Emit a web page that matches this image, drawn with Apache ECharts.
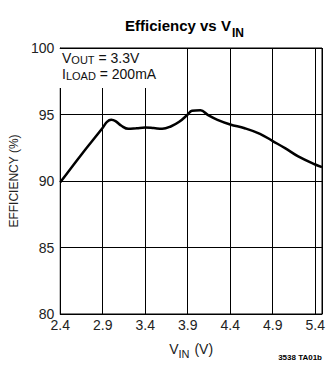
<!DOCTYPE html>
<html><head><meta charset="utf-8">
<script src="https://cdn.jsdelivr.net/npm/echarts@6/dist/echarts.min.js"></script>
<style>html,body{margin:0;padding:0;background:#fff}#c{width:335px;height:373px}</style>
</head><body><div id="c"></div>
<script>
const vin = [2.4, 2.65, 2.9, 2.95, 3.0, 3.05, 3.12, 3.2, 3.3, 3.4, 3.5, 3.6, 3.7, 3.8, 3.9, 3.95, 4.05, 4.14, 4.25, 4.4, 4.57, 4.75, 4.9, 5.05, 5.2, 5.4, 5.48];
const efficiency = [89.9, 92.0, 94.0, 94.45, 94.6, 94.5, 94.15, 93.92, 93.97, 94.02, 93.98, 93.93, 94.1, 94.45, 95.0, 95.28, 95.32, 94.95, 94.6, 94.25, 93.97, 93.55, 93.0, 92.45, 91.85, 91.24, 91.04];
const yTicks = [80, 85, 90, 95, 100];
const xTicks = ['2.4', '2.9', '3.4', '3.9', '4.4', '4.9', '5.4'];

const F = '"Liberation Sans Narrow", "Liberation Sans", Arial, sans-serif';
const chart = echarts.init(document.getElementById('c'), null, {renderer: 'svg'});
chart.setOption({
  animation: false,
  backgroundColor: '#fff',
  grid: {left: 57, right: 13, top: 48, bottom: 59, show: true, borderColor: '#000', borderWidth: 1},
  xAxis: {
    type: 'value', min: 2.4, max: 5.48, interval: 0.5,
    axisLine: {show: true, lineStyle: {color: '#000', width: 1}},
    axisTick: {show: false},
    splitLine: {show: true, lineStyle: {color: '#000', width: 1}},
    axisLabel: {margin: 4, showMaxLabel: false, color: '#222', fontFamily: F, fontSize: 14,
      formatter: v => { const s = v.toFixed(1); return xTicks.indexOf(s) >= 0 ? s : ''; }},
    name: '{v|V}{s|IN}{v| (V)}', nameLocation: 'middle', nameGap: 28,
    nameTextStyle: {rich: {
      v: {fontFamily: F, fontSize: 14, color: '#222', lineHeight: 16, verticalAlign: 'top'},
      s: {fontFamily: F, fontSize: 11, color: '#222', lineHeight: 11, verticalAlign: 'top', padding: [6, 1, 0, 0]}
    }}
  },
  yAxis: {
    type: 'value', min: 80, max: 100, interval: 5,
    axisLine: {show: true, lineStyle: {color: '#000', width: 1}},
    axisTick: {show: false},
    splitLine: {show: true, lineStyle: {color: '#000', width: 1}},
    axisLabel: {margin: 6, color: '#222', fontFamily: F, fontSize: 14,
      formatter: v => yTicks.indexOf(Math.round(v)) >= 0 ? String(Math.round(v)) : ''},
    name: 'EFFICIENCY (%)', nameLocation: 'middle', nameGap: 33, nameRotate: 90,
    nameTextStyle: {fontFamily: F, fontSize: 12, color: '#222'}
  },
  graphic: [
    {type: 'rect', left: 58, top: 49, shape: {width: 94, height: 39}, style: {fill: '#fff'}, z: 10},
    {type: 'text', left: 62, top: 51, z: 11, style: {
      text: '{v|V}{s|OUT}{v| = 3.3V}\n{v|I}{s|LOAD}{v| = 200mA}',
      rich: {
        v: {fontFamily: F, fontSize: 14, fill: '#111', lineHeight: 16, verticalAlign: 'bottom'},
        s: {fontFamily: F, fontSize: 11, fill: '#111', lineHeight: 10, verticalAlign: 'bottom'}
      }}},
    {type: 'text', left: 125, top: 18, z: 11, style: {
      text: '{t|Efficiency vs V}{s|IN}',
      rich: {
        t: {fontFamily: F, fontSize: 15, fontWeight: 'bold', fill: '#000', lineHeight: 20, verticalAlign: 'top'},
        s: {fontFamily: F, fontSize: 12, fontWeight: 'bold', fill: '#000', lineHeight: 12, verticalAlign: 'top', padding: [9, 0, 0, 1]}
      }}},
    {type: 'text', right: 13, top: 353, z: 11, style: {
      text: '3538 TA01b', fontFamily: F, fontSize: 8, fontWeight: 'bold', fill: '#000'}}
  ],
  series: [{
    type: 'line', data: vin.map((x, i) => [x, efficiency[i]]),
    smooth: 0.4, showSymbol: false, clip: true,
    lineStyle: {color: '#000', width: 2.5}
  }]
});
</script></body></html>
